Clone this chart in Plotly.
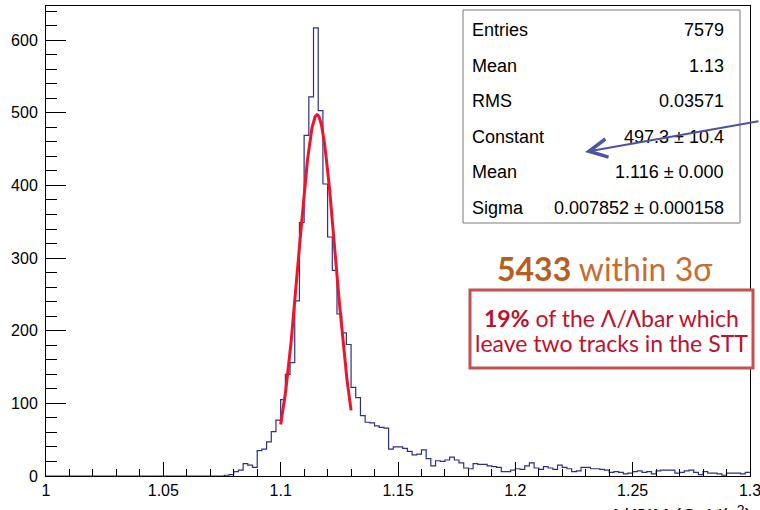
import numpy as np
import plotly.graph_objects as go

# Invariant-mass histogram: 150 bins of 0.002 GeV/c^2 between 1.0 and 1.3
bin_lo, bin_hi, n_bins = 1.0, 1.3, 150
counts = [
    0, 0, 0, 0, 0, 0, 0, 0, 0, 0,
    0, 0, 0, 0, 0, 0, 0, 0, 0, 0,
    0, 0, 0, 0, 0, 0, 0, 0, 0, 0,
    0, 0, 0, 0, 0, 0, 0, 0, 1, 2,
    6, 8, 17, 15, 12, 35, 37, 47, 61, 77,
    105, 140, 156, 241, 349, 469, 522, 617, 503, 402,
    329, 283, 223, 197, 181, 122, 108, 83, 74, 73,
    69, 67, 66, 37, 40, 40, 38, 34, 29, 30,
    36, 24, 14, 21, 20, 22, 26, 22, 18, 11,
    10, 17, 16, 16, 14, 13, 12, 6, 6, 8,
    10, 9, 14, 18, 11, 9, 13, 11, 9, 15,
    12, 10, 6, 7, 12, 12, 10, 10, 9, 8,
    5, 6, 5, 3, 4, 6, 7, 5, 6, 3,
    7, 8, 8, 8, 4, 5, 7, 8, 5, 2,
    6, 4, 4, 3, 1, 4, 4, 4, 3, 5,
]
assert len(counts) == n_bins

# Gaussian fit parameters
fit_constant = 497.3
fit_mean = 1.1155
fit_sigma = 0.007852
fit_range = (1.10, 1.13)

# Statistics box
stats_labels = ["Entries", "Mean", "RMS", "Constant", "Mean", "Sigma"]
stats_values = ["7579", "1.13", "0.03571", "497.3 \u00b1 10.4",
                "1.116 \u00b1 0.000", "0.007852 \u00b1 0.000158"]

x_ticks = [1.0, 1.05, 1.1, 1.15, 1.2, 1.25, 1.3]
y_max = 647

W, H = 760, 510
ML, MR, MT, MB = 46, 10, 6, 34


def px(x):
    return (x - ML) / (W - ML - MR)


def py(y):
    return 1 - (y - MT) / (H - MT - MB)


edges = np.linspace(bin_lo, bin_hi, n_bins + 1)
step_y = list(counts) + [counts[-1]]

xf = np.linspace(fit_range[0], fit_range[1], 200)
yf = fit_constant * np.exp(-0.5 * ((xf - fit_mean) / fit_sigma) ** 2)

fig = go.Figure()
fig.add_trace(go.Scatter(x=edges, y=step_y, mode="lines", line_shape="hv",
                         line=dict(color="#2b3184", width=1.2),
                         hoverinfo="skip", showlegend=False))
fig.add_trace(go.Scatter(x=xf, y=yf, mode="lines",
                         line=dict(color="#f0142a", width=3),
                         hoverinfo="skip", showlegend=False))

tick_font = dict(family="Liberation Sans, Arial, sans-serif", size=16, color="black")
fig.update_xaxes(range=[bin_lo, bin_hi + 1e-6], tickvals=x_ticks,
                 ticktext=[f"{v:g}" for v in x_ticks],
                 ticks="inside", ticklen=14, tickwidth=1, tickcolor="black",
                 minor=dict(dtick=0.01, tick0=1.0, ticks="inside", ticklen=7,
                            tickcolor="black", showgrid=False),
                 showline=True, linecolor="black", linewidth=1, mirror=True,
                 showgrid=False, zeroline=False, tickfont=tick_font,
                 ticklabeloverflow="allow", automargin=False)
fig.update_yaxes(range=[0, y_max], dtick=100, tick0=0,
                 ticks="inside", ticklen=20, tickwidth=1, tickcolor="black",
                 minor=dict(dtick=20, tick0=0, ticks="inside", ticklen=11,
                            tickcolor="black", showgrid=False),
                 showline=True, linecolor="black", linewidth=1, mirror=True,
                 showgrid=False, zeroline=False, tickfont=tick_font,
                 ticklabelstandoff=4, automargin=False)

shapes = [
    # statistics box
    dict(type="rect", xref="paper", yref="paper",
         x0=px(463), x1=px(740), y0=py(10), y1=py(223),
         line=dict(color="#7a7a7a", width=1), fillcolor="white", layer="above"),
    # caption box
    dict(type="rect", xref="paper", yref="paper",
         x0=px(470), x1=px(753), y0=py(290), y1=py(368),
         line=dict(color="#c4504f", width=3), fillcolor="white", layer="above"),
]

annotations = []
stat_font = dict(family="Liberation Sans, Arial, sans-serif", size=18, color="black")
row_y = [30, 66, 101, 137, 172, 208]
for lab, val, yy in zip(stats_labels, stats_values, row_y):
    annotations.append(dict(xref="paper", yref="paper", x=px(470), y=py(yy),
                            xanchor="left", yanchor="middle", text=lab,
                            showarrow=False, font=stat_font))
    annotations.append(dict(xref="paper", yref="paper", x=px(726), y=py(yy),
                            xanchor="right", yanchor="middle", text=val,
                            showarrow=False, font=stat_font))

# pointer arrow into the statistics box
annotations.append(dict(xref="paper", yref="paper", x=px(585), y=py(152),
                        ax=180, ay=-31, text="", showarrow=True,
                        arrowhead=5, arrowsize=1.8, arrowwidth=2,
                        arrowcolor="#4b55a3"))

annotations.append(dict(xref="paper", yref="paper", x=px(604), y=py(268),
                        xanchor="center", yanchor="middle", showarrow=False,
                        text="<b><span style='color:#b85c22'>5433</span></b>"
                             "<span style='color:#c66d31'> within 3\u03c3</span>",
                        font=dict(family="Lato, sans-serif", size=32)))
cap_font = dict(family="Lato, sans-serif", size=23, color="#c0102c")
annotations.append(dict(xref="paper", yref="paper", x=px(611), y=py(318),
                        xanchor="center", yanchor="middle", showarrow=False,
                        text="<b>19%</b> of the \u039b/\u039bbar which",
                        font=cap_font))
annotations.append(dict(xref="paper", yref="paper", x=px(611), y=py(343),
                        xanchor="center", yanchor="middle", showarrow=False,
                        text="leave two tracks in the STT", font=cap_font))

# x-axis title at the lower right corner
annotations.append(dict(xref="paper", yref="paper", x=px(753), y=py(500),
                        xanchor="right", yanchor="top", showarrow=False,
                        text="\u039b/\u039b\u0304 IM (GeV/c<sup>2</sup>)",
                        font=dict(family="Liberation Sans, Arial, sans-serif",
                                  size=20, color="black")))

fig.update_layout(width=W, height=H, margin=dict(l=ML, r=MR, t=MT, b=MB),
                  paper_bgcolor="white", plot_bgcolor="white",
                  shapes=shapes, annotations=annotations, showlegend=False)

fig.write_html("out.html")
